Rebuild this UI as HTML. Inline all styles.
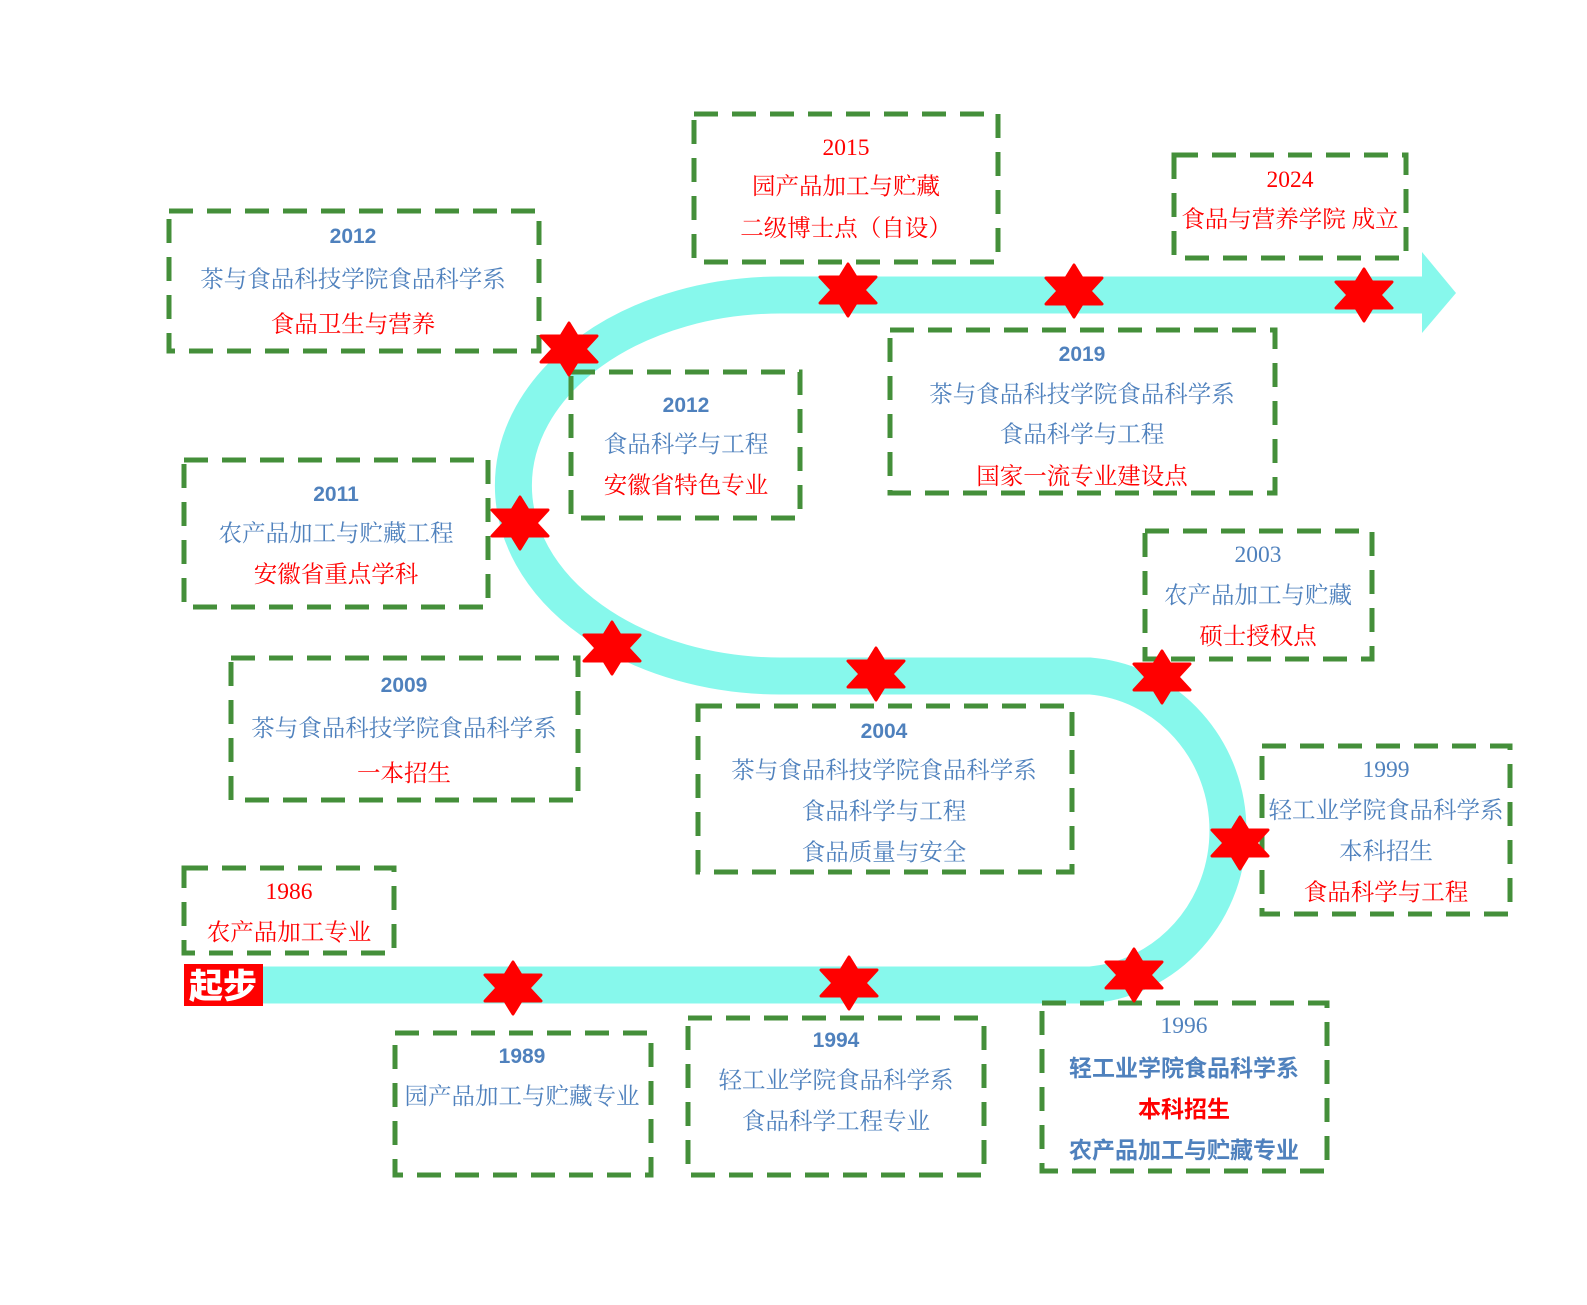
<!DOCTYPE html>
<html><head><meta charset="utf-8"><style>
html,body{margin:0;padding:0;background:#fff;overflow:hidden;width:1587px;height:1305px;}
svg{display:block}
svg text{font-family:"Liberation Serif","Noto Serif CJK SC",serif;font-size:23.5px;text-anchor:middle;}
.b{fill:#4f81bd}.r{fill:#ff0000}
.y{font-family:"Liberation Sans","Noto Sans CJK SC",sans-serif;font-weight:bold;font-size:21px}
.s{font-family:"Liberation Sans","Noto Sans CJK SC",sans-serif;font-weight:bold;font-size:23px}
</style></head><body>
<svg width="1587" height="1305" xmlns="http://www.w3.org/2000/svg">
<defs>
<polygon id="st" points="0,-26 8,-13 28,-13 16,0 28,13 8,13 0,26 -8,13 -28,13 -16,0 -28,-13 -8,-13" fill="#ff0000" stroke="#ff0000" stroke-width="3" stroke-linejoin="round"/>
</defs>
<g fill="none" stroke="#87f8ec" stroke-width="37">
<path d="M262 985 L1090 985 A150 155 0 0 0 1090 676 L780 676 A266 190 0 0 1 780 295 L1425 295"/>
</g>
<polygon points="1422,252 1456,293 1422,333" fill="#87f8ec"/>
<g fill="none" stroke="#448f3a" stroke-width="5" stroke-dasharray="24,14">
<rect x="169" y="211" width="370" height="140"/>
<rect x="694" y="114" width="304" height="148"/>
<rect x="1174" y="155" width="232" height="103"/>
<rect x="571" y="372" width="229" height="146"/>
<rect x="890" y="330" width="385" height="163"/>
<rect x="184" y="460" width="304" height="147"/>
<rect x="1145" y="531" width="227" height="128"/>
<rect x="231" y="658" width="347" height="142"/>
<rect x="698" y="706" width="374" height="166"/>
<rect x="1262" y="746" width="248" height="168"/>
<rect x="184" y="868" width="210" height="85"/>
<rect x="395" y="1033" width="256" height="142"/>
<rect x="688" y="1018" width="296" height="157"/>
<rect x="1042" y="1003" width="285" height="168"/>
</g>
<rect x="184" y="964" width="79" height="42" fill="#ff0000"/>
<text x="223" y="998" style="font-family:'Noto Sans CJK SC',sans-serif;font-weight:900;font-size:34px;fill:#fff">起步</text>
<g>
<use href="#st" x="848" y="290"/><use href="#st" x="1074" y="291"/><use href="#st" x="1364" y="295"/>
<use href="#st" x="569" y="349"/><use href="#st" x="520" y="523"/><use href="#st" x="612" y="648"/>
<use href="#st" x="876" y="674"/><use href="#st" x="1162" y="677"/><use href="#st" x="1240" y="843"/>
<use href="#st" x="1134" y="975"/><use href="#st" x="849" y="983"/><use href="#st" x="513" y="988"/>
</g>
<text class="b y" x="353" y="243">2012</text>
<text class="b" x="353" y="287">茶与食品科技学院食品科学系</text>
<text class="r" x="353" y="332">食品卫生与营养</text>
<text class="r" x="846" y="155">2015</text>
<text class="r" x="846" y="194">园产品加工与贮藏</text>
<text class="r" x="846" y="236">二级博士点（自设）</text>
<text class="r" x="1290" y="187">2024</text>
<text class="r" x="1290" y="227">食品与营养学院  成立</text>
<text class="b y" x="686" y="412">2012</text>
<text class="b" x="686" y="452">食品科学与工程</text>
<text class="r" x="686" y="493">安徽省特色专业</text>
<text class="b y" x="1082" y="361">2019</text>
<text class="b" x="1082" y="402">茶与食品科技学院食品科学系</text>
<text class="b" x="1082" y="442">食品科学与工程</text>
<text class="r" x="1082" y="484">国家一流专业建设点</text>
<text class="b y" x="336" y="501">2011</text>
<text class="b" x="336" y="541">农产品加工与贮藏工程</text>
<text class="r" x="336" y="582">安徽省重点学科</text>
<text class="b" x="1258" y="562">2003</text>
<text class="b" x="1258" y="603">农产品加工与贮藏</text>
<text class="r" x="1258" y="644">硕士授权点</text>
<text class="b y" x="404" y="692">2009</text>
<text class="b" x="404" y="736">茶与食品科技学院食品科学系</text>
<text class="r" x="404" y="781">一本招生</text>
<text class="b y" x="884" y="738">2004</text>
<text class="b" x="884" y="778">茶与食品科技学院食品科学系</text>
<text class="b" x="884" y="819">食品科学与工程</text>
<text class="b" x="884" y="860">食品质量与安全</text>
<text class="b" x="1386" y="777">1999</text>
<text class="b" x="1386" y="818">轻工业学院食品科学系</text>
<text class="b" x="1386" y="859">本科招生</text>
<text class="r" x="1386" y="900">食品科学与工程</text>
<text class="r" x="289" y="899">1986</text>
<text class="r" x="289" y="940">农产品加工专业</text>
<text class="b y" x="522" y="1063">1989</text>
<text class="b" x="522" y="1104">园产品加工与贮藏专业</text>
<text class="b y" x="836" y="1047">1994</text>
<text class="b" x="836" y="1088">轻工业学院食品科学系</text>
<text class="b" x="836" y="1129">食品科学工程专业</text>
<text class="b" x="1184" y="1033">1996</text>
<text class="b s" x="1184" y="1076">轻工业学院食品科学系</text>
<text class="r s" x="1184" y="1117">本科招生</text>
<text class="b s" x="1184" y="1158">农产品加工与贮藏专业</text>
</svg>
</body></html>
